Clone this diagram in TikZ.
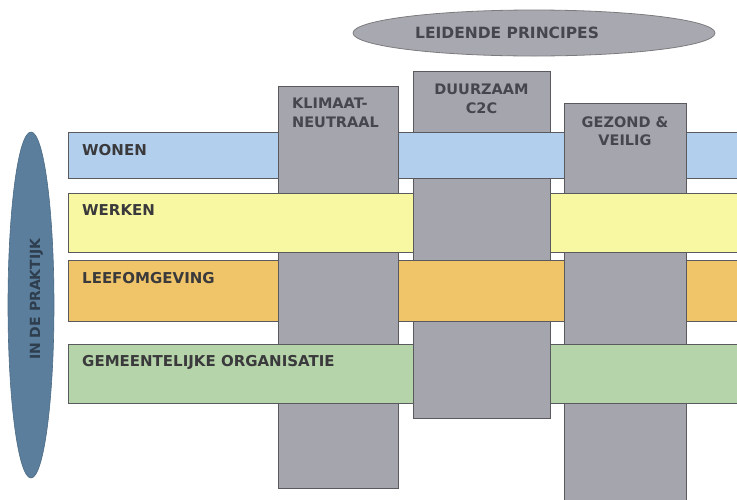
\documentclass[tikz,border=0pt]{standalone}
\usepackage{fontspec}
\setmainfont{DejaVu Sans}
\usetikzlibrary{shapes.geometric,calc}
\definecolor{colgray}{HTML}{A5A5AD}
\definecolor{ellgray}{HTML}{A8A8B0}
\definecolor{ellblue}{HTML}{5A7E9C}
\definecolor{bluefill}{HTML}{B2D0EE}
\definecolor{yellowfill}{HTML}{F8F8A2}
\definecolor{orangefill}{HTML}{F0C468}
\definecolor{greenfill}{HTML}{B6D4AA}
\definecolor{edgecol}{HTML}{5A5A5E}
\definecolor{bandtext}{HTML}{3A3A3C}
\definecolor{coltext}{HTML}{46464E}
\definecolor{praktijktext}{HTML}{2E3E4E}
\newcommand\bandover[3]{%
  \fill[#3] ($(#2.west |- #1.north)+(-0.8,0)$) rectangle ($(#2.east |- #1.south)+(0.8,0)$);
  \draw[edgeline] ($(#2.west |- #1.north)+(-0.8,0)$) -- ($(#2.east |- #1.north)+(0.8,0)$);
  \draw[edgeline] ($(#2.west |- #1.south)+(-0.8,0)$) -- ($(#2.east |- #1.south)+(0.8,0)$);
}
\begin{document}
\begin{tikzpicture}[x=1pt,y=-1pt,
  edgeline/.style={draw=edgecol, line width=0.9pt},
  bandbox/.style={rectangle, edgeline, inner sep=0pt, outer sep=0pt, anchor=north west},
  colbox/.style={rectangle, edgeline, fill=colgray, inner sep=0pt, outer sep=0pt, anchor=north west},
  bandlabel/.style={anchor=base west, inner sep=0pt, text=bandtext, font=\bfseries\fontsize{15}{18}\selectfont},
  collabel/.style={anchor=base, inner sep=0pt, text=coltext, font=\bfseries\fontsize{14.5}{18}\selectfont},
]
\useasboundingbox (0,0) rectangle (737,499);
\clip (0,0) rectangle (737,499);

% leading principles ellipse
\node[ellipse, fill=ellgray, draw=edgecol!80, line width=0.8pt, minimum width=362pt, minimum height=46pt, inner sep=0pt] (lp) at (534,33) {};
\node[anchor=base west, inner sep=0pt, text=coltext, font=\bfseries\fontsize{15.5}{18}\selectfont] (lptext) at (415,38) {LEIDENDE PRINCIPES};

% practice ellipse
\node[ellipse, fill=ellblue, draw=ellblue!85!black, line width=0.6pt, minimum width=46pt, minimum height=346pt, inner sep=0pt] (ip) at (31,305) {};
\node[rotate=90, anchor=base west, inner sep=0pt, text=praktijktext, font=\bfseries\fontsize{14}{16}\selectfont] (iptext) at (40,360) {IN DE PRAKTIJK};

% bands
\node[bandbox, fill=bluefill, minimum width=690pt, minimum height=46pt] (wonen) at (68,132) {};
\node[bandbox, fill=yellowfill, minimum width=690pt, minimum height=59pt] (werken) at (68,193) {};
\node[bandbox, fill=orangefill, minimum width=690pt, minimum height=61pt] (leef) at (68,260) {};
\node[bandbox, fill=greenfill, minimum width=690pt, minimum height=59pt] (gem) at (68,344) {};

% columns
\node[colbox, minimum width=120pt, minimum height=402pt] (klim) at (278,86) {};
\node[colbox, minimum width=137pt, minimum height=347pt] (duur) at (413,71) {};
\node[colbox, minimum width=122pt, minimum height=420pt] (gez) at (564,103) {};

% weaving: bands over columns
\bandover{wonen}{duur}{bluefill}
\bandover{werken}{klim}{yellowfill}
\bandover{werken}{gez}{yellowfill}
\bandover{leef}{duur}{orangefill}
\bandover{gem}{klim}{greenfill}
\bandover{gem}{gez}{greenfill}

% band labels
\node[bandlabel] (lwonen) at (82,155) {WONEN};
\node[bandlabel] (lwerken) at (82,215) {WERKEN};
\node[bandlabel] (lleef) at (82,283) {LEEFOMGEVING};
\node[bandlabel] (lgem) at (82,366) {GEMEENTELIJKE ORGANISATIE};

% column labels
\node[collabel, anchor=base west] (lklim1) at (292,108) {KLIMAAT-};
\node[collabel, anchor=base west] (lklim2) at (292,127) {NEUTRAAL};
\node[collabel] (lduur1) at (481.5,94) {DUURZAAM};
\node[collabel] (lduur2) at (481.5,113) {C2C};
\node[collabel] (lgez1) at (625,127) {GEZOND \&};
\node[collabel] (lgez2) at (625,145) {VEILIG};
\end{tikzpicture}
\end{document}
